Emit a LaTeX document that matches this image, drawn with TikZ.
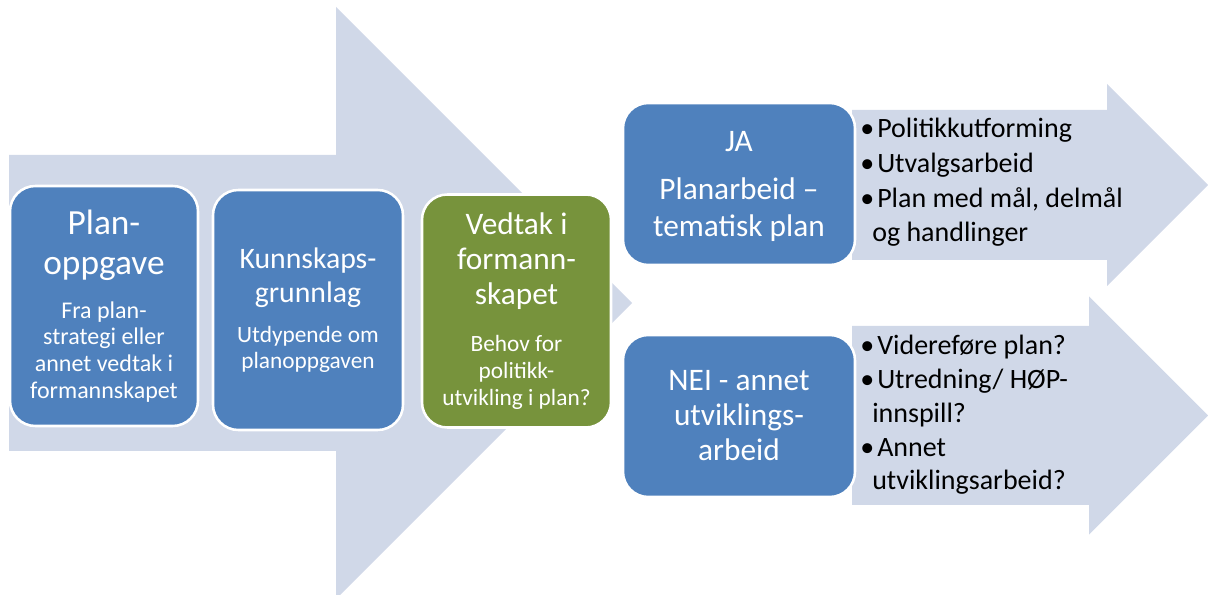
\documentclass[tikz,border=0pt]{standalone}
\usepackage{fontspec}
\setmainfont{Carlito}
\definecolor{planblue}{HTML}{4F81BD}
\definecolor{plangreen}{HTML}{77933C}
\definecolor{planshade}{HTML}{D0D8E8}
\newcommand{\bul}{\makebox[12.75pt][l]{\textbullet}}
\newcommand{\headsize}[2]{\fontsize{#1}{#2}\selectfont}
\newcommand{\boxtext}[2]{\parbox{#1}{\centering #2\par}}
\newcommand{\listtext}[1]{\parbox[t]{260pt}{\raggedright\headsize{21}{26}#1\par}}

\begin{document}
\begin{tikzpicture}
  [x=0.75pt,y=-0.75pt,
  boxdecorate/.style={shape=rectangle,rounded corners=19pt,draw=white,line width=1.9pt,
    text=white,inner sep=0pt},
  bluedecorate/.style={boxdecorate,fill=planblue},
  greendecorate/.style={boxdecorate,fill=plangreen},
  arrowdecorate/.style={fill=planshade,draw=none},
  listdecorate/.style={anchor=base west,inner sep=0pt}]
  \useasboundingbox (0,0) rectangle (1208,595);
  %% arrows
  \foreach \xa/\ya/\yb/\xh/\xt in {9/155/451/336/632, 852/110/260/1107/1208, 852/326/505/1089/1208}
  {
    \pgfmathsetmacro{\yc}{(\ya+\yb)/2}
    \pgfmathsetmacro{\hh}{\xt-\xh}
    \fill[arrowdecorate] (\xa,\ya) -- (\xh,\ya) -- (\xh,\yc-\hh) -- (\xt,\yc)
      -- (\xh,\yc+\hh) -- (\xh,\yb) -- (\xa,\yb) -- cycle;
  }
  %% boxes
  \node (planoppgave) at (104,306) [bluedecorate,minimum width=141pt,minimum height=180pt]
    {\boxtext{141pt}{\headsize{26.5}{30}Plan-\\oppgave\par\vspace{13pt}
      \headsize{18}{20}Fra plan-\\strategi eller\\annet vedtak i\\formannskapet}};
  \node (kunnskap) at (308,310) [bluedecorate,minimum width=142.5pt,minimum height=180pt]
    {\boxtext{142.5pt}{\headsize{22.3}{26}Kunnskaps-\\grunnlag\par\vspace{10.5pt}
      \headsize{17.5}{19.3}Utdypende om\\planoppgaven}};
  \node (vedtak) at (516.5,311) [greendecorate,minimum width=141.75pt,minimum height=174.75pt]
    {\boxtext{141.75pt}{\headsize{23.5}{26.25}Vedtak i\\formann-\\skapet\par\vspace{15pt}
      \headsize{17.5}{20.25}Behov for\\politikk-\\utvikling i plan?}};
  \node (ja) at (739,184) [bluedecorate,minimum width=174pt,minimum height=121.5pt]
    {\boxtext{174pt}{\headsize{23.5}{27.75}\vspace*{4pt}JA\par\vspace{8.25pt}Planarbeid –\\tematisk plan}};
  \node (nei) at (739,416) [bluedecorate,minimum width=174pt,minimum height=121.5pt]
    {\boxtext{174pt}{\headsize{23.5}{26.25}NEI - annet\\utviklings-\\arbeid}};
  %% lists
  \node (jalist) at (860,138) [listdecorate]
    {\listtext{\bul Politikkutforming\\\bul Utvalgsarbeid\\\bul Plan med mål, delmål\\\hspace*{9pt}og handlinger}};
  \node (neilist) at (860,355) [listdecorate]
    {\listtext{\baselineskip=25.3pt\bul Videreføre plan?\\\bul Utredning/ HØP-\\\hspace*{9pt}innspill?\\\bul Annet\\\hspace*{9pt}utviklingsarbeid?}};
\end{tikzpicture}
\end{document}
